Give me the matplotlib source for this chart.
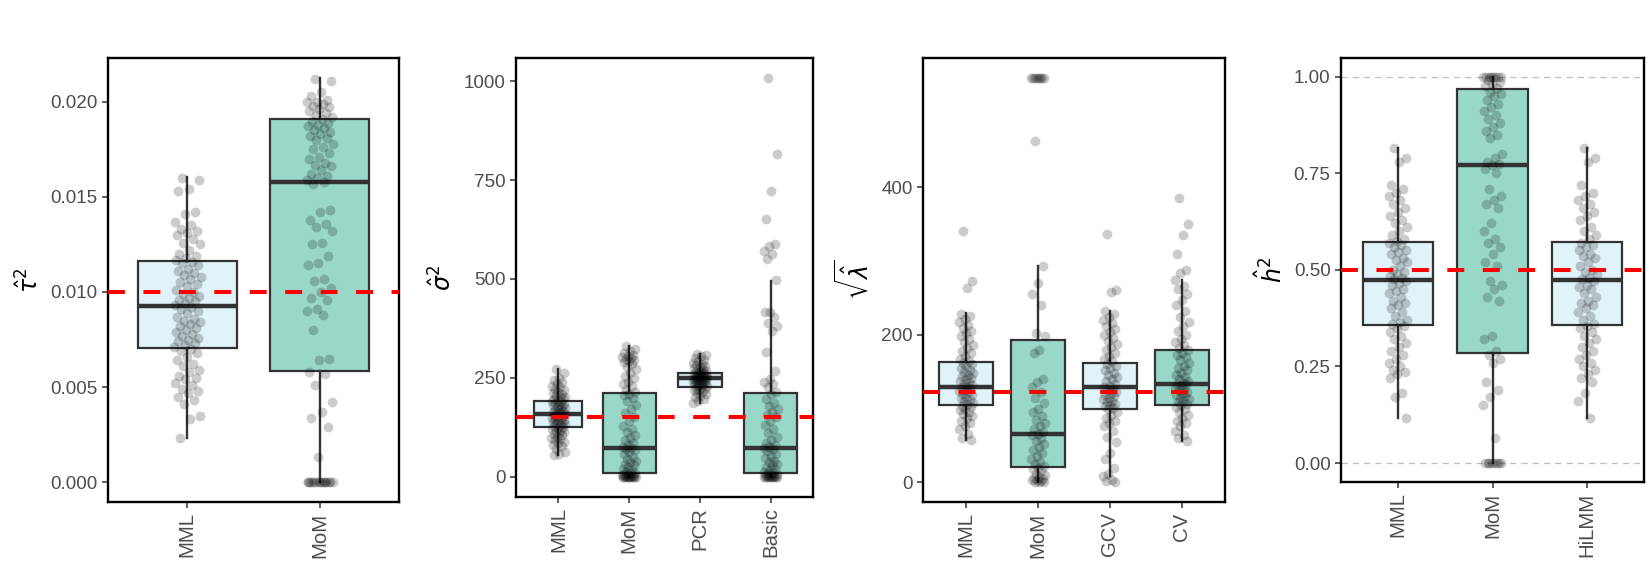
import numpy as np
import matplotlib.pyplot as plt
from matplotlib.ticker import FormatStrFormatter

plt.rcParams['font.family'] = ['Liberation Sans', 'DejaVu Sans']

# ---- datos ----
# panel 1: tau^2
tau_metodos = ['MML', 'MoM']
tau_mml = [0.0160, 0.0159, 0.0154, 0.0153, 0.0142, 0.0141, 0.0137, 0.0135, 0.0133, 0.0132,
           0.0131, 0.0130, 0.0128, 0.0126, 0.0125, 0.0122, 0.0120, 0.0119, 0.0118, 0.0117,
           0.0116, 0.0115, 0.0114, 0.0112, 0.0111, 0.0110, 0.0109, 0.0108, 0.0107, 0.0105,
           0.0104, 0.0103, 0.0101, 0.0100, 0.0099, 0.0098, 0.0097, 0.0096, 0.0095, 0.0094,
           0.0093, 0.0092, 0.0091, 0.0090, 0.0089, 0.0087, 0.0086, 0.0085, 0.0084, 0.0083,
           0.0082, 0.0081, 0.0080, 0.0079, 0.0078, 0.0077, 0.0076, 0.0075, 0.0074, 0.0073,
           0.0072, 0.0071, 0.0070, 0.0069, 0.0068, 0.0066, 0.0064, 0.0062, 0.0061, 0.0059,
           0.0058, 0.0056, 0.0055, 0.0054, 0.0052, 0.0051, 0.0049, 0.0048, 0.0047, 0.0045,
           0.0043, 0.0041, 0.0035, 0.0033, 0.0023]
tau_mom = [0.0212, 0.0211, 0.0205, 0.0203, 0.0201, 0.0200, 0.0200, 0.0199, 0.0198, 0.0197,
           0.0196, 0.0195, 0.0194, 0.0193, 0.0192, 0.0191, 0.0190, 0.0189, 0.0188, 0.0187,
           0.0186, 0.0185, 0.0184, 0.0183, 0.0182, 0.0181, 0.0180, 0.0178, 0.0176, 0.0175,
           0.0173, 0.0171, 0.0170, 0.0168, 0.0167, 0.0166, 0.0164, 0.0162, 0.0161, 0.0160,
           0.0159, 0.0158, 0.0157, 0.0143, 0.0142, 0.0138, 0.0136, 0.0134, 0.0132, 0.0126,
           0.0125, 0.0119, 0.0115, 0.0114, 0.0107, 0.0106, 0.0102, 0.0100, 0.0097, 0.0096,
           0.0091, 0.0090, 0.0088, 0.0080, 0.0065, 0.0064, 0.0058, 0.0057, 0.0051, 0.0042,
           0.0037, 0.0034, 0.0029, 0.0013, 0, 0, 0, 0, 0, 0, 0, 0, 0, 0, 0, 0, 0, 0, 0]
tau_q1 = [0.00703, 0.00583]
tau_med = [0.00924, 0.01577]
tau_q3 = [0.01165, 0.01909]
tau_lo = [0.00233, 0.0]
tau_hi = [0.01604, 0.02123]
tau_verdadero = 0.010

# panel 2: sigma^2
sig_metodos = ['MML', 'MoM', 'PCR', 'Basic']
sig_mml = [272, 262, 248, 243, 240, 235, 230, 226, 222, 218, 215, 212, 208, 205, 202, 200,
           197, 195, 192, 190, 188, 186, 184, 182, 180, 178, 175, 173, 170, 168, 166, 164,
           162, 160, 158, 157, 156, 154, 152, 150, 148, 146, 144, 142, 140, 138, 136, 134,
           132, 130, 128, 126, 124, 121, 118, 115, 112, 110, 107, 104, 101, 98, 95, 92, 88,
           84, 80, 76, 70, 62, 58, 54]
sig_mom = [329, 322, 318, 312, 308, 305, 303, 300, 298, 296, 293, 290, 285, 278, 272, 262,
           255, 248, 240, 235, 228, 220, 214, 210, 205, 198, 190, 182, 172, 160, 150, 140,
           128, 120, 112, 104, 98, 92, 86, 80, 74, 72, 70, 66, 62, 56, 50, 45, 40, 36, 32,
           28, 24, 20, 16, 12, 10, 8, 6, 5, 4, 3, 2, 1, 0, 0, 0, 0, 0, 0, 0, 0, 0, 0, 0]
sig_pcr = [311, 308, 305, 300, 296, 292, 288, 285, 282, 279, 276, 274, 272, 270, 268, 266,
           264, 262, 261, 260, 259, 258, 257, 256, 255, 254, 253, 252, 251, 250, 249, 248,
           247, 246, 245, 244, 243, 242, 241, 240, 239, 238, 237, 236, 235, 234, 232, 230,
           228, 226, 224, 222, 220, 218, 215, 212, 208, 204, 200, 196, 192, 187]
sig_basic = [1007, 817, 723, 651, 587, 583, 570, 562, 551, 496, 417, 415, 403, 389, 380, 368,
             315, 268, 247, 240, 234, 226, 215, 210, 195, 185, 178, 170, 162, 155, 150, 140,
             130, 120, 110, 100, 92, 86, 80, 74, 72, 70, 64, 58, 52, 46, 40, 36, 32, 28, 24,
             20, 16, 12, 10, 8, 6, 4, 3, 2, 1, 0, 0, 0, 0, 0, 0, 0, 0, 0, 0]
sig_q1 = [126, 8.5, 225.5, 8.5]
sig_med = [157, 72, 248.5, 72]
sig_q3 = [190, 212, 261, 212]
sig_lo = [54, 0, 187, 0]
sig_hi = [272, 329, 311, 494]
sig_verdadero = 150

# panel 3: sqrt(lambda)
lam_metodos = ['MML', 'MoM', 'GCV', 'CV']
lam_mml = [341, 273, 264, 229, 226, 222, 218, 214, 210, 206, 202, 198, 194, 190, 186, 182,
           178, 175, 172, 168, 165, 162, 160, 158, 155, 152, 150, 148, 146, 144, 142, 140,
           138, 136, 134, 132, 130, 129, 128, 126, 124, 122, 120, 118, 116, 114, 112, 110,
           108, 106, 104, 102, 100, 98, 96, 93, 90, 87, 84, 80, 76, 72, 66, 60, 57]
lam_mom = [548, 548, 548, 548, 548, 548, 548, 548, 463, 294, 270, 255, 240, 202, 198, 180,
           175, 140, 136, 130, 122, 115, 108, 100, 95, 90, 85, 80, 76, 72, 68, 66, 64, 60,
           56, 52, 48, 44, 40, 36, 32, 28, 25, 22, 20, 18, 15, 12, 10, 8, 6, 5, 4, 3, 2,
           1, 0, 0]
lam_gcv = [337, 261, 258, 232, 228, 224, 220, 216, 212, 208, 204, 200, 196, 192, 188, 184,
           180, 176, 172, 168, 164, 161, 158, 155, 152, 149, 146, 143, 140, 137, 134, 131,
           129, 127, 125, 123, 121, 119, 117, 115, 113, 111, 109, 107, 105, 103, 101, 99,
           96, 92, 88, 84, 80, 76, 70, 62, 55, 40, 32, 20, 12, 9, 4, 2, 1]
lam_cv = [386, 350, 335, 310, 288, 284, 274, 266, 262, 256, 248, 240, 232, 224, 218, 212,
          206, 200, 195, 190, 186, 182, 179, 176, 173, 170, 166, 162, 158, 155, 152, 149,
          146, 143, 140, 137, 135, 134, 133, 131, 129, 127, 125, 123, 121, 119, 117, 115,
          113, 111, 109, 107, 105, 102, 99, 96, 92, 88, 84, 80, 76, 70, 64, 60, 56]
lam_q1 = [105.6, 20.6, 99.7, 105.6]
lam_med = [129.4, 66.3, 128.9, 134]
lam_q3 = [163.7, 193.4, 161.4, 179.7]
lam_lo = [57, 0, 9, 56]
lam_hi = [229.5, 294, 231.8, 274]
lam_verdadero = 122.5

# panel 4: h^2
h_metodos = ['MML', 'MoM', 'HiLMM']
h_mml = [0.815, 0.79, 0.78, 0.72, 0.71, 0.70, 0.69, 0.68, 0.67, 0.66, 0.65, 0.64, 0.63,
         0.62, 0.61, 0.60, 0.59, 0.58, 0.575, 0.57, 0.565, 0.56, 0.55, 0.545, 0.54, 0.53,
         0.525, 0.52, 0.51, 0.50, 0.495, 0.49, 0.485, 0.48, 0.475, 0.47, 0.465, 0.46, 0.45,
         0.445, 0.44, 0.43, 0.42, 0.415, 0.41, 0.40, 0.39, 0.38, 0.37, 0.365, 0.36, 0.355,
         0.35, 0.34, 0.33, 0.32, 0.31, 0.30, 0.29, 0.28, 0.27, 0.26, 0.25, 0.24, 0.235,
         0.23, 0.22, 0.18, 0.17, 0.116]
h_mom = [1.0, 1.0, 1.0, 1.0, 1.0, 1.0, 1.0, 1.0, 0.99, 0.985, 0.98, 0.975, 0.97, 0.96,
         0.955, 0.95, 0.94, 0.93, 0.92, 0.91, 0.90, 0.89, 0.88, 0.87, 0.86, 0.85, 0.84,
         0.80, 0.79, 0.78, 0.775, 0.77, 0.76, 0.75, 0.71, 0.69, 0.68, 0.67, 0.66, 0.62,
         0.60, 0.58, 0.57, 0.56, 0.54, 0.52, 0.51, 0.47, 0.46, 0.45, 0.43, 0.42, 0.33,
         0.32, 0.29, 0.28, 0.27, 0.26, 0.21, 0.19, 0.17, 0.15, 0.065,
         0.0, 0.0, 0.0, 0.0, 0.0, 0.0, 0.0, 0.0]
h_hilmm = [0.815, 0.79, 0.78, 0.72, 0.70, 0.69, 0.68, 0.67, 0.66, 0.65, 0.64, 0.63, 0.61,
           0.60, 0.59, 0.58, 0.57, 0.565, 0.56, 0.55, 0.54, 0.535, 0.53, 0.52, 0.51, 0.50,
           0.495, 0.49, 0.48, 0.475, 0.47, 0.46, 0.455, 0.45, 0.44, 0.43, 0.42, 0.415, 0.41,
           0.40, 0.39, 0.38, 0.37, 0.36, 0.355, 0.35, 0.34, 0.33, 0.32, 0.31, 0.30, 0.29,
           0.28, 0.27, 0.26, 0.25, 0.24, 0.23, 0.22, 0.21, 0.18, 0.16, 0.116]
h_q1 = [0.356, 0.286, 0.356]
h_med = [0.474, 0.771, 0.474]
h_q3 = [0.572, 0.969, 0.572]
h_lo = [0.116, 0.0, 0.116]
h_hi = [0.815, 1.0, 0.815]
h_verdadero = 0.5

COLOR_CLARO = '#E0F3F8'
COLOR_VERDE = '#99D8C9'
GRIS_TEXTO = '#4D4D4D'

W, H = 1650, 569


def caja_px(x0, x1, y0, y1):
    # rectangulo de ejes en pixeles (desde arriba) -> fraccion de figura
    return [x0 / W, 1 - y1 / H, (x1 - x0) / W, (y1 - y0) / H]


def jitter(n, ancho=0.1):
    # desplazamiento horizontal deterministico (secuencia de razon aurea)
    k = np.arange(n)
    return ((k * 0.6180339887 + 0.31) % 1.0 - 0.5) * 2 * ancho


def panel(ax, metodos, puntos, q1, med, q3, lo, hi, anchos, verdadero, ylim, ticks, fmt, ylabel):
    stats = []
    for i in range(len(metodos)):
        stats.append({'q1': q1[i], 'med': med[i], 'q3': q3[i],
                      'whislo': lo[i], 'whishi': hi[i], 'label': metodos[i]})
    pos = np.arange(1, len(metodos) + 1)
    bp = ax.bxp(stats, positions=pos, widths=anchos, patch_artist=True,
                showfliers=False, showcaps=False,
                boxprops=dict(edgecolor='#333333', linewidth=1.6),
                whiskerprops=dict(color='#333333', linewidth=1.7),
                medianprops=dict(color='#333333', linewidth=3.2), zorder=2)
    for i, caja in enumerate(bp['boxes']):
        caja.set_facecolor(COLOR_CLARO if i % 2 == 0 else COLOR_VERDE)
    for i, vals in enumerate(puntos):
        vals = np.asarray(vals, dtype=float)
        ax.scatter(pos[i] + jitter(len(vals)), vals, s=50, color='black', alpha=0.2,
                   linewidths=0, zorder=3)
    ax.axhline(verdadero, color='red', linewidth=2.9, linestyle=(0, (4.2, 4.6)), zorder=4)
    ax.set_xlim(0.4, len(metodos) + 0.6)
    ax.set_ylim(*ylim)
    ax.set_yticks(ticks)
    ax.yaxis.set_major_formatter(FormatStrFormatter(fmt))
    ax.set_xticks(pos)
    ax.set_xticklabels(metodos, rotation=90)
    ax.tick_params(axis='both', colors='#333333', labelcolor=GRIS_TEXTO,
                   length=4.5, width=1.1, pad=3)
    ax.tick_params(axis='y', labelsize=13.6)
    ax.tick_params(axis='x', labelsize=14.7)
    for lado in ax.spines.values():
        lado.set_linewidth(1.7)
        lado.set_color('black')
    ax.set_ylabel(ylabel, fontsize=17, color='black', labelpad=5)


fig = plt.figure(figsize=(W / 100, H / 100), dpi=100)
ax1 = fig.add_axes(caja_px(108, 399, 58, 502))
ax2 = fig.add_axes(caja_px(516, 813, 58, 497))
ax3 = fig.add_axes(caja_px(923, 1225, 58, 502))
ax4 = fig.add_axes(caja_px(1341, 1644, 58, 482))

panel(ax1, tau_metodos, [tau_mml, tau_mom], tau_q1, tau_med, tau_q3, tau_lo, tau_hi,
      [0.75, 0.75], tau_verdadero, (-0.00104, 0.0223), [0, 0.005, 0.01, 0.015, 0.02],
      '%.3f', r'$\hat{\tau}^2$')
panel(ax2, sig_metodos, [sig_mml, sig_mom, sig_pcr, sig_basic], sig_q1, sig_med, sig_q3,
      sig_lo, sig_hi, [0.68, 0.75, 0.62, 0.75], sig_verdadero, (-51.8, 1058.7),
      [0, 250, 500, 750, 1000], '%d', r'$\hat{\sigma}^2$')
panel(ax3, lam_metodos, [lam_mml, lam_mom, lam_gcv, lam_cv], lam_q1, lam_med, lam_q3,
      lam_lo, lam_hi, [0.75] * 4, lam_verdadero, (-26.5, 575.5), [0, 200, 400], '%d',
      r'$\sqrt{\hat{\lambda}}$')
panel(ax4, h_metodos, [h_mml, h_mom, h_hilmm], h_q1, h_med, h_q3, h_lo, h_hi,
      [0.74] * 3, h_verdadero, (-0.049, 1.048), [0, 0.25, 0.5, 0.75, 1.0], '%.2f',
      r'$\hat{h}^2$')
for y in [0.0, 1.0]:
    ax4.axhline(y, color='#BEBEBE', linewidth=0.9, linestyle=(0, (5, 4)), zorder=1)

fig.savefig('out.png', dpi=100)
